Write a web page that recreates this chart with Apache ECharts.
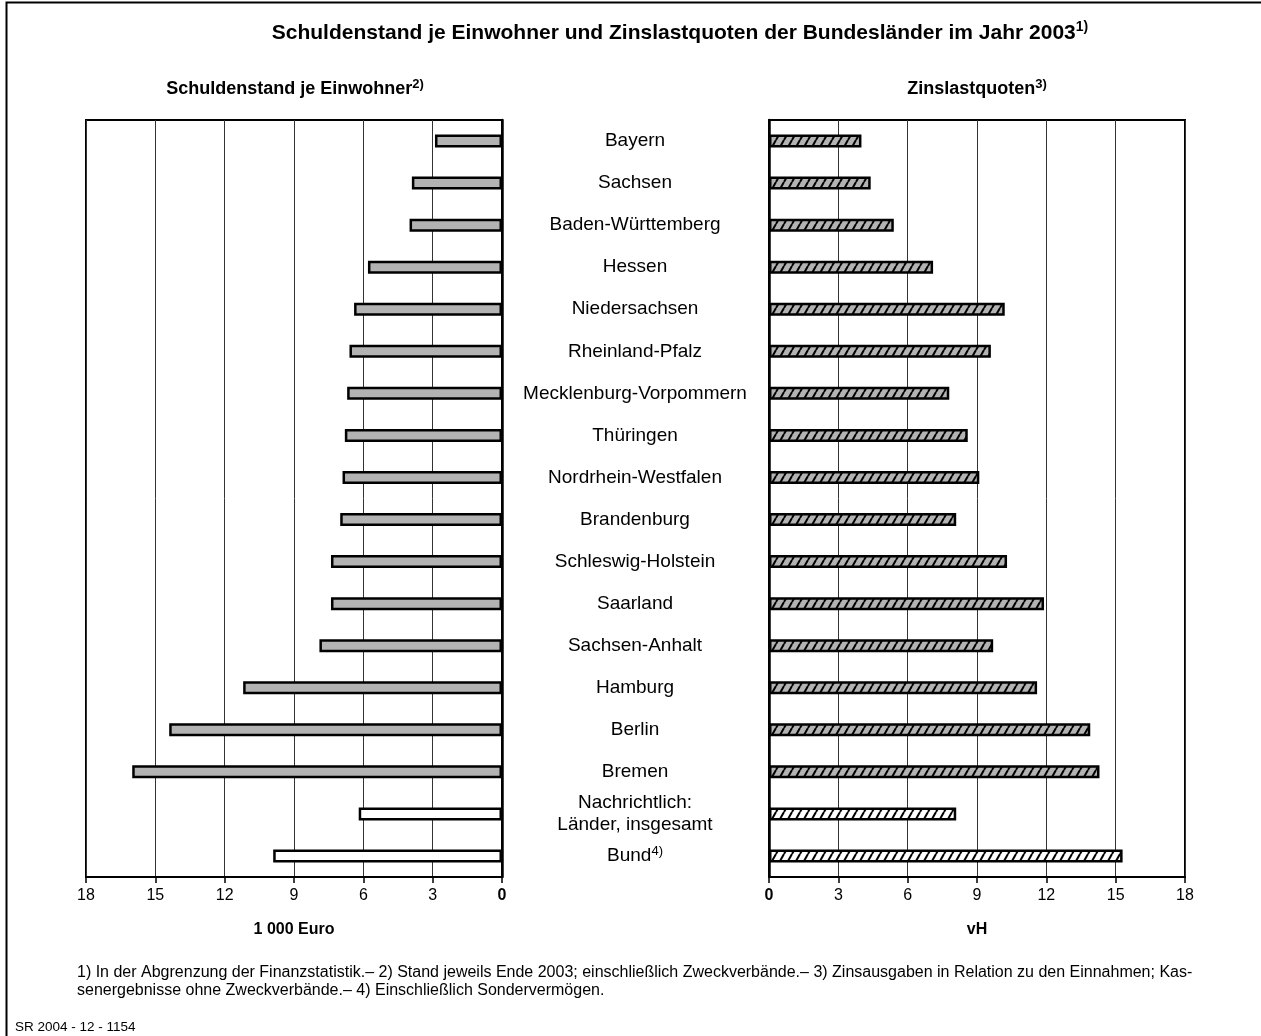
<!DOCTYPE html>
<html><head><meta charset="utf-8">
<script src="https://cdn.jsdelivr.net/npm/echarts@6/dist/echarts.min.js"></script>
<style>html,body{margin:0;padding:0;background:#fff}#c{width:1261px;height:1036px}</style>
</head><body><div id="c"></div>
<script>
// ---- data ----
const categories = ['Bayern','Sachsen','Baden-Württemberg','Hessen','Niedersachsen','Rheinland-Pfalz','Mecklenburg-Vorpommern','Thüringen','Nordrhein-Westfalen','Brandenburg','Schleswig-Holstein','Saarland','Sachsen-Anhalt','Hamburg','Berlin','Bremen','Nachrichtlich:\nLänder, insgesamt','Bund'];
const summaryCategories = ['Nachrichtlich:\nLänder, insgesamt','Bund'];
const schuldenstandJeEinwohner = [2.9,3.9,4.0,5.8,6.4,6.6,6.7,6.8,6.9,7.0,7.4,7.4,7.9,11.2,14.4,16.0,6.2,9.9];
const zinslastquoten = [4.0,4.4,5.4,7.1,10.2,9.6,7.8,8.6,9.1,8.1,10.3,11.9,9.7,11.6,13.9,14.3,8.1,15.3];
const axisMin = 0, axisMax = 18, axisStep = 3;
const titleText = 'Schuldenstand je Einwohner und Zinslastquoten der Bundesländer im Jahr 2003';
const leftTitle = 'Schuldenstand je Einwohner';
const rightTitle = 'Zinslastquoten';
const leftUnit = '1 000 Euro';
const rightUnit = 'vH';
const footnotes = '1) In der Abgrenzung der Finanzstatistik.– 2) Stand jeweils Ende 2003; einschließlich Zweckverbände.– 3) Zinsausgaben in Relation zu den Einnahmen; Kas-\nsenergebnisse ohne Zweckverbände.– 4) Einschließlich Sondervermögen.';
const sourceCode = 'SR 2004 - 12 - 1154';

// ---- styles ----
const FONT = '"Liberation Sans", Arial, Helvetica, sans-serif';
const GRAY = '#b3b3b3';
function hatch(bg){
  const c = document.createElement('canvas'); c.width = 8; c.height = 14;
  const g = c.getContext('2d'); g.fillStyle = bg; g.fillRect(0,0,8,14);
  g.strokeStyle = '#000'; g.lineWidth = 2;
  for (const dx of [-8,0,8]) { g.beginPath(); g.moveTo(dx,14); g.lineTo(dx+8,0); g.stroke(); }
  return c;
}
const hatchGray = {image: hatch(GRAY), repeat: 'repeat'};
const hatchWhite = {image: hatch('#ffffff'), repeat: 'repeat'};

const chart = echarts.init(document.getElementById('c'), null, {renderer:'canvas'});

function valueAxis(grid, inverse, name){
  return {
    type:'value', gridIndex:grid, inverse:inverse, min:axisMin, max:axisMax, interval:axisStep,
    axisLine:{show:true, onZero:false, lineStyle:{color:'#000', width:2}},
    axisTick:{show:true, length:6, lineStyle:{color:'#000', width:1.5}},
    axisLabel:{fontSize:16, color:'#000', fontFamily:FONT, margin:11,
      formatter:v => v === 0 ? '{b|0}' : String(v),
      rich:{b:{fontWeight:'bold', fontSize:16, fontFamily:FONT, color:'#000'}}},
    splitLine:{show:true, lineStyle:{color:'#333', width:1}},
    name:name, nameLocation:'middle', nameGap:45,
    nameTextStyle:{fontWeight:'bold', fontSize:16, color:'#000', fontFamily:FONT}
  };
}

const option = {
  animation:false,
  backgroundColor:'#fff',
  textStyle:{fontFamily:FONT},
  title:[
    {text:'{t|'+titleText+'}{s|1)}', left:680, top:20, textAlign:'center', padding:0,
     textStyle:{rich:{t:{fontSize:21, fontWeight:'bold', color:'#000', fontFamily:FONT, lineHeight:26},
                       s:{fontSize:14, color:'#000', fontFamily:FONT, verticalAlign:'top', lineHeight:14}}}},
    {text:'{t|'+leftTitle+'}{s|2)}', left:295, top:78, textAlign:'center', padding:0,
     textStyle:{rich:{t:{fontSize:18, fontWeight:'bold', color:'#000', fontFamily:FONT, lineHeight:22},
                       s:{fontSize:13, color:'#000', fontFamily:FONT, verticalAlign:'top', lineHeight:13}}}},
    {text:'{t|'+rightTitle+'}{s|3)}', left:977, top:78, textAlign:'center', padding:0,
     textStyle:{rich:{t:{fontSize:18, fontWeight:'bold', color:'#000', fontFamily:FONT, lineHeight:22},
                       s:{fontSize:13, color:'#000', fontFamily:FONT, verticalAlign:'top', lineHeight:13}}}}
  ],
  grid:[
    {left:86, top:120, width:416, height:757, show:true, borderColor:'#000', borderWidth:2, containLabel:false},
    {left:769, top:120, width:416, height:757, show:true, borderColor:'#000', borderWidth:2, containLabel:false}
  ],
  xAxis:[ valueAxis(0, true, leftUnit), valueAxis(1, false, rightUnit) ],
  yAxis:[
    {type:'category', gridIndex:0, data:categories, inverse:true, position:'right',
     axisLine:{show:true, lineStyle:{color:'#000', width:2.5}}, axisTick:{show:false},
     axisLabel:{margin:133, align:'center', fontSize:19, lineHeight:22, color:'#000', fontFamily:FONT,
       formatter:v => v === 'Bund' ? '{n|Bund}{s|4)}' : v,
       rich:{n:{fontSize:19, lineHeight:22, color:'#000', fontFamily:FONT},
             s:{fontSize:13, lineHeight:13, verticalAlign:'top', color:'#000', fontFamily:FONT}}}},
    {type:'category', gridIndex:1, data:categories, inverse:true, position:'left',
     axisLine:{show:true, lineStyle:{color:'#000', width:2.5}}, axisTick:{show:false},
     axisLabel:{show:false}}
  ],
  series:[
    {type:'bar', xAxisIndex:0, yAxisIndex:0, barWidth:13,
     itemStyle:{color:GRAY, borderColor:'#000', borderWidth:2.5},
     data:schuldenstandJeEinwohner.map((v,i)=> summaryCategories.includes(categories[i])
        ? {value:v, itemStyle:{color:'#fff'}} : v)},
    {type:'bar', xAxisIndex:1, yAxisIndex:1, barWidth:13,
     itemStyle:{color:hatchGray, borderColor:'#000', borderWidth:2.5},
     data:zinslastquoten.map((v,i)=> summaryCategories.includes(categories[i])
        ? {value:v, itemStyle:{color:hatchWhite}} : v)}
  ],
  graphic:[
    {type:'polyline', shape:{points:[[6.5,1040],[6.5,2.5],[1265,2.5]]}, style:{stroke:'#000', lineWidth:2, fill:null}, silent:true},
    {type:'text', x:77, y:964, style:{text:footnotes, font:'16px '+FONT, fill:'#000', lineHeight:18}},
    {type:'text', x:15, y:1020, style:{text:sourceCode, font:'13.5px '+FONT, fill:'#000'}}
  ]
};
chart.setOption(option);
</script></body></html>
